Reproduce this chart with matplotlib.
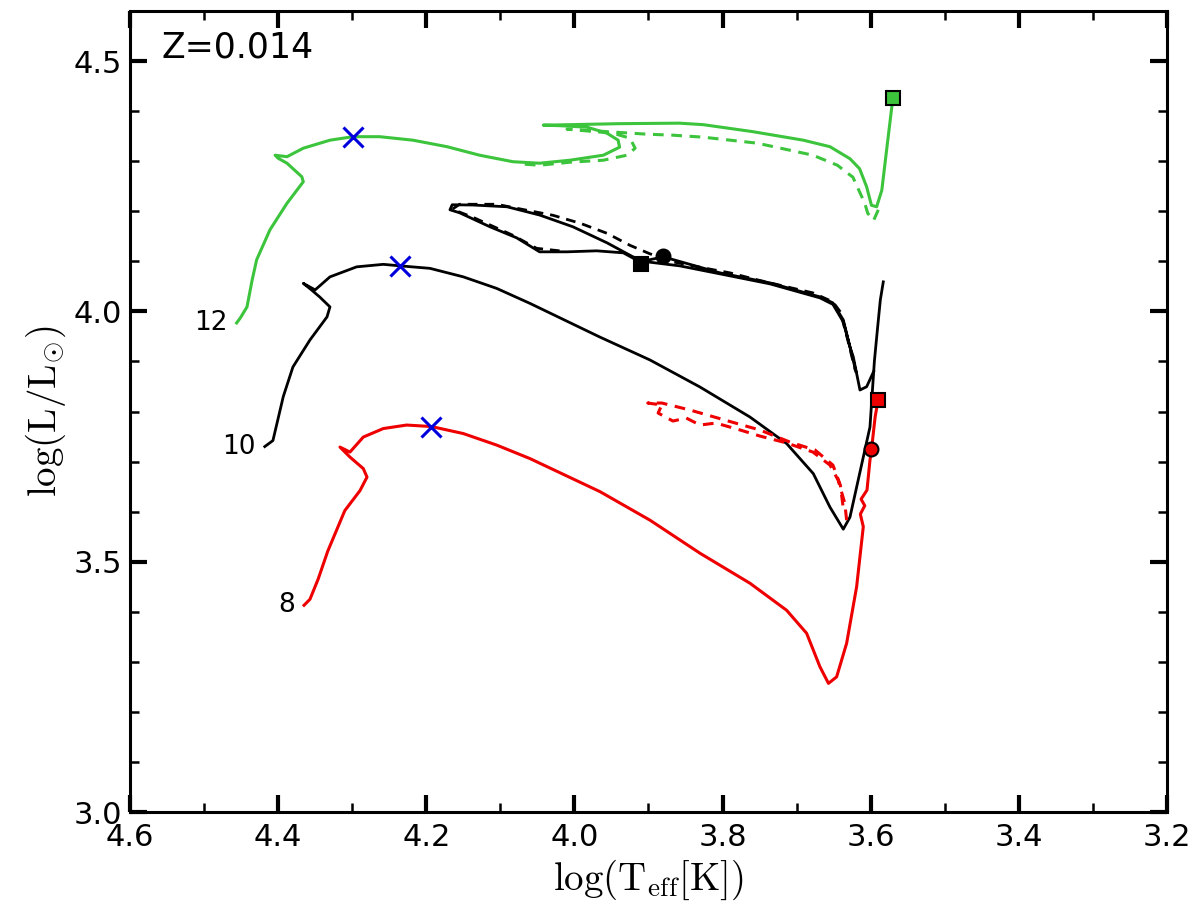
import numpy as np
from matplotlib import pyplot as plt
from matplotlib.ticker import MultipleLocator

plt.rcParams["mathtext.fontset"] = "cm"
plt.rcParams["font.family"] = ["DejaVu Sans"]

green = "#3cc43c"
red = "#ee0000"

# 12 Msun track (solid and dashed)
logT_12 = [4.456, 4.451, 4.442, 4.435, 4.429, 4.411, 4.388, 4.366, 4.368, 4.388, 4.400, 4.404,
           4.388, 4.366, 4.330, 4.299, 4.263, 4.218, 4.172, 4.128, 4.083, 4.047, 4.006, 3.961,
           3.939, 3.941, 3.956, 3.983, 4.020, 4.042, 4.006, 3.939, 3.858, 3.826, 3.759, 3.691,
           3.655, 3.628, 3.615, 3.6055, 3.599, 3.592, 3.585, 3.578, 3.570]
logL_12 = [3.977, 3.987, 4.009, 4.063, 4.103, 4.163, 4.216, 4.259, 4.269, 4.296, 4.306, 4.312,
           4.309, 4.326, 4.342, 4.349, 4.349, 4.342, 4.329, 4.312, 4.299, 4.296, 4.302, 4.312,
           4.328, 4.342, 4.356, 4.368, 4.371, 4.372, 4.373, 4.375, 4.376, 4.373, 4.359, 4.342,
           4.329, 4.305, 4.285, 4.249, 4.212, 4.209, 4.242, 4.329, 4.427]
logT_12d = [4.067, 4.047, 4.006, 3.961, 3.929, 3.918, 3.925, 3.948, 3.979, 4.010, 3.966, 3.902,
            3.867, 3.826, 3.753, 3.678, 3.645, 3.624, 3.608, 3.604, 3.596, 3.587]
logL_12d = [4.294, 4.292, 4.298, 4.302, 4.312, 4.326, 4.346, 4.356, 4.360, 4.364, 4.360, 4.354,
            4.352, 4.348, 4.336, 4.312, 4.292, 4.268, 4.216, 4.196, 4.182, 4.212]

# 10 Msun track: main sequence to red supergiant tip
logT_10 = [4.418, 4.407, 4.393, 4.380, 4.357, 4.334, 4.330, 4.344, 4.355, 4.366, 4.350, 4.330,
           4.294, 4.258, 4.2355, 4.195, 4.150, 4.105, 4.060, 3.966, 3.898, 3.8305, 3.763, 3.7135,
           3.6775, 3.655, 3.637, 3.628, 3.619, 3.610, 3.601, 3.598, 3.595, 3.591, 3.587, 3.583]
logL_10 = [3.730, 3.742, 3.830, 3.889, 3.943, 3.989, 4.009, 4.029, 4.043, 4.056, 4.043, 4.069,
           4.089, 4.094, 4.091, 4.086, 4.069, 4.046, 4.016, 3.949, 3.903, 3.849, 3.789, 3.736,
           3.676, 3.609, 3.565, 3.589, 3.649, 3.709, 3.769, 3.835, 3.901, 3.963, 4.023, 4.059]
# 10 Msun blue loop
logT_10b = [3.596, 3.6055, 3.6145, 3.6235, 3.628, 3.637, 3.651, 3.6685, 3.736, 3.8035, 3.880,
            3.9115, 3.934, 3.970, 4.010, 4.047, 4.078, 4.114, 4.155, 4.168, 4.165, 4.137, 4.091,
            4.047, 4.002, 3.956, 3.921, 3.902, 3.858, 3.8035, 3.736, 3.6685, 3.651, 3.637, 3.628,
            3.620]
logL_10b = [3.880, 3.8495, 3.843, 3.909, 3.929, 3.983, 4.017, 4.029, 4.057, 4.077, 4.109,
            4.099, 4.117, 4.121, 4.119, 4.119, 4.147, 4.169, 4.197, 4.203, 4.213, 4.2125, 4.209,
            4.1925, 4.169, 4.137, 4.109, 4.099, 4.091, 4.075, 4.055, 4.027, 4.014, 3.979, 3.929,
            3.880]
logT_10d = [4.020, 4.051, 4.083, 4.137, 4.165, 4.155, 4.105, 4.064, 4.029, 3.992, 3.956, 3.925,
            3.898, 3.867, 3.826, 3.790, 3.753, 3.713, 3.678, 3.651, 3.641, 3.631, 3.621]
logL_10d = [4.121, 4.126, 4.152, 4.188, 4.204, 4.214, 4.214, 4.202, 4.192, 4.176, 4.156, 4.132,
            4.115, 4.099, 4.087, 4.077, 4.063, 4.049, 4.037, 4.019, 3.999, 3.943, 3.883]

# 8 Msun track
logT_8 = [4.365, 4.357, 4.346, 4.333, 4.310, 4.2895, 4.280, 4.285, 4.303, 4.3165, 4.303, 4.285,
          4.258, 4.2265, 4.193, 4.150, 4.105, 4.060, 3.9655, 3.898, 3.8305, 3.763, 3.7135, 3.6865,
          3.6685, 3.657, 3.646, 3.6325, 3.619, 3.610, 3.614, 3.608, 3.613, 3.605, 3.601, 3.599,
          3.594, 3.590]
logL_8 = [3.413, 3.425, 3.465, 3.521, 3.602, 3.642, 3.669, 3.686, 3.709, 3.729, 3.719, 3.749,
          3.766, 3.773, 3.770, 3.756, 3.733, 3.706, 3.640, 3.583, 3.517, 3.457, 3.403, 3.357,
          3.290, 3.257, 3.270, 3.337, 3.450, 3.570, 3.595, 3.612, 3.625, 3.643, 3.703, 3.723,
          3.7895, 3.823]
logT_8d = [3.6325, 3.635, 3.644, 3.655, 3.678, 3.713, 3.7495, 3.776, 3.809, 3.8305, 3.849, 3.867,
           3.887, 3.882, 3.901, 3.882, 3.844, 3.797, 3.7495, 3.709, 3.675, 3.651, 3.641, 3.637]
logL_8d = [3.583, 3.617, 3.663, 3.693, 3.719, 3.737, 3.751, 3.763, 3.777, 3.773, 3.787, 3.781,
           3.797, 3.813, 3.817, 3.817, 3.803, 3.783, 3.763, 3.739, 3.723, 3.693, 3.653, 3.607]

# blue crosses, end squares, circles
cross_T = [4.299, 4.2355, 4.193]
cross_L = [4.349, 4.091, 3.770]
square_T = [3.570, 3.910, 3.590]
square_L = [4.427, 4.094, 3.823]
circle_T = [3.880, 3.600]
circle_L = [4.111, 3.725]

mass_labels = ["12", "10", "8"]
label_T = [4.468, 4.430, 4.377]
label_L = [3.977, 3.730, 3.413]

fig = plt.figure(figsize=(12, 9.19), dpi=100)
ax = fig.add_axes([0.1083, 0.1164, 0.8642, 0.8716])

dash = (0, (3.5, 2.5))
kw = dict(solid_joinstyle="round", dash_capstyle="butt")
ax.plot(logT_12, logL_12, color=green, lw=2.2, **kw)
ax.plot(logT_12d, logL_12d, color=green, lw=2.2, linestyle=dash, **kw)
ax.plot(logT_10, logL_10, color="black", lw=2.0, **kw)
ax.plot(logT_10b, logL_10b, color="black", lw=2.0, **kw)
ax.plot(logT_10d, logL_10d, color="black", lw=2.0, linestyle=dash, **kw)
ax.plot(logT_8, logL_8, color=red, lw=2.2, **kw)
ax.plot(logT_8d, logL_8d, color=red, lw=2.2, linestyle=dash, **kw)

ax.plot(cross_T, cross_L, "x", color="#0000dd", ms=14, mew=2.2, ls="none")
sq_colors = [green, "black", red]
for t, l, c in zip(square_T, square_L, sq_colors):
    ax.plot(t, l, "s", color=c, mec="black", mew=1.5, ms=10)
circ_colors = ["black", red]
for t, l, c in zip(circle_T, circle_L, circ_colors):
    ax.plot(t, l, "o", color=c, mec="black", mew=1.5, ms=10)

for s, t, l in zip(mass_labels, label_T, label_L):
    ax.text(t, l, s, fontsize=19, ha="right", va="center")

ax.text(0.03, 0.955, "Z=0.014", transform=ax.transAxes, fontsize=25, va="center", ha="left")

ax.set_xlim(4.6, 3.2)
ax.set_ylim(3.0, 4.6)
ax.xaxis.set_major_locator(MultipleLocator(0.2))
ax.xaxis.set_minor_locator(MultipleLocator(0.1))
ax.yaxis.set_major_locator(MultipleLocator(0.5))
ax.yaxis.set_minor_locator(MultipleLocator(0.1))
ax.xaxis.set_major_formatter(plt.FuncFormatter(lambda v, p: f"{v:.1f}"))
ax.yaxis.set_major_formatter(plt.FuncFormatter(lambda v, p: f"{v:.1f}"))
ax.tick_params(which="both", direction="in", top=True, right=True, labelsize=22)
ax.tick_params(which="major", length=12, width=3)
ax.tick_params(which="minor", length=6.5, width=1.8)
ax.tick_params(axis="x", pad=8)
ax.tick_params(axis="y", pad=6)
for sp in ax.spines.values():
    sp.set_linewidth(2.2)

ax.set_xlabel(r"$\log(\mathrm{T_{eff}[K]})$", fontsize=28, labelpad=4)
ax.set_ylabel(r"$\log(\mathrm{L/L_{\odot}})$", fontsize=28, labelpad=4)

plt.savefig("out.png", dpi=100)
